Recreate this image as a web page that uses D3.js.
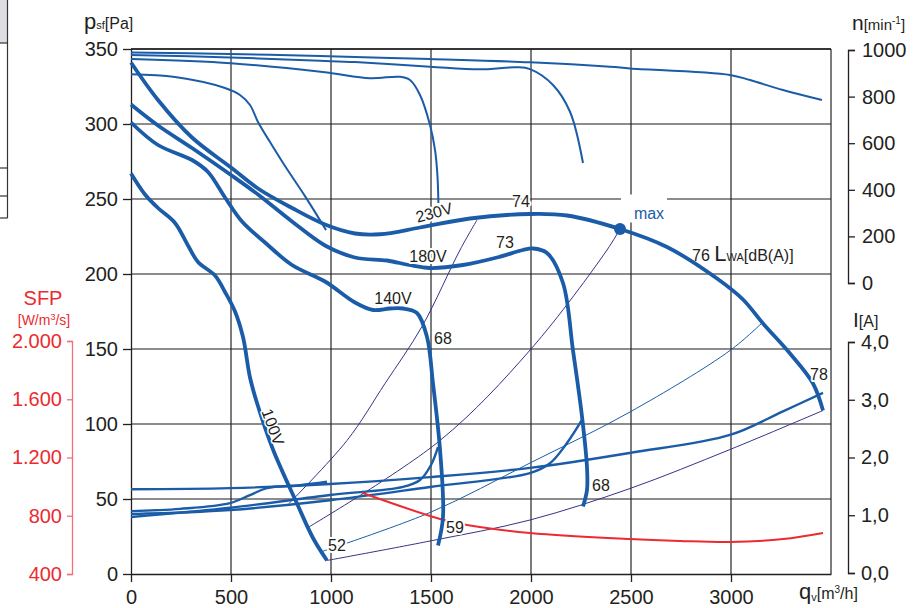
<!DOCTYPE html>
<html><head><meta charset="utf-8">
<script src="https://cdn.jsdelivr.net/npm/d3@7"></script>
<style>
body{margin:0;background:#fff;}
svg{display:block;font-family:"Liberation Sans",Arial,sans-serif;}
</style></head><body>
<svg id="c" width="915" height="608"></svg>
<script>
// ---------- tick labels ----------
const qTicks = [0, 500, 1000, 1500, 2000, 2500, 3000];
const pTicks = [0, 50, 100, 150, 200, 250, 300, 350];
const nTicks = [0, 200, 400, 600, 800, 1000];
const iTicks = [0, 1, 2, 3, 4];
const iLabels = ["0,0", "1,0", "2,0", "3,0", "4,0"];
const sfpTicks = [400, 800, 1200, 1600, 2000];
const sfpLabels = ["400", "800", "1.200", "1.600", "2.000"];

// ---------- pressure curves [q m3/h, p Pa] ----------
const press230 = [[0,341],[135,316],[305,291],[500,271],[635,257],[805,244],[970,233],[1120,227],[1245,226.5],[1445,231],[1695,237],[1995,240],[2180,239],[2445,230],[2680,218],[2930,197],[3060,183],[3160,167],[3295,147],[3410,127],[3460,109]];
const press180 = [[0,313],[135,299],[305,284],[500,266],[635,253],[805,235],[970,219],[1120,211],[1280,209],[1390,206],[1495,204],[1660,206],[1830,211],[1960,216],[2010,217],[2080,214],[2160,194],[2210,149],[2255,105],[2280,71],[2280,56],[2260,45]];
const press140 = [[0,301],[135,286],[305,276],[385,268],[470,251],[555,235],[670,221],[805,206],[970,195],[1120,181],[1210,176],[1295,177],[1360,177],[1430,174],[1480,158],[1510,127],[1545,83],[1560,38],[1535,19]];
const press100 = [[0,267],[70,253],[135,244],[220,234],[285,219],[335,208],[420,199],[470,188],[520,175],[560,158],[595,131],[630,114],[710,83],[830,47],[910,24],[980,9]];

// ---------- speed curves [q, n min-1] ----------
const speed230 = [[0,989],[495,983],[945,974],[1495,961],[1995,947],[2395,928],[2495,921],[2995,893],[3095,871],[3260,828],[3455,785]];
const speed180 = [[0,979],[495,968],[945,954],[1120,948],[1495,928],[1745,917],[1930,926],[1995,918],[2110,850],[2195,735],[2260,515]];
const speed140 = [[0,961],[500,943],[970,904],[1195,879],[1345,885],[1395,871],[1445,807],[1495,678],[1520,571],[1532,464],[1537,343]];
const speed100 = [[0,896],[220,884],[470,837],[545,807],[595,764],[635,691],[695,605],[770,502],[870,373],[975,227]];

// ---------- current curves [q, I A] ----------
const curr230 = [[0,1.45],[495,1.47],[995,1.54],[1495,1.66],[1995,1.82],[2495,2.08],[2995,2.39],[3260,2.8],[3460,3.12]];
const curr180 = [[0,1.02],[495,1.09],[995,1.26],[1495,1.49],[1995,1.73],[2095,1.9],[2180,2.25],[2260,2.68]];
const curr140 = [[0,0.97],[495,1.13],[995,1.35],[1360,1.49],[1445,1.61],[1500,1.87],[1535,2.18]];
const curr100 = [[0,1.07],[245,1.11],[495,1.21],[595,1.35],[680,1.47],[845,1.52],[980,1.58]];

// ---------- SFP [q, W/m3/s] ----------
const sfp = [[1155,958],[1545,778],[1680,736],[1995,682],[2495,640],[2745,627],[2995,620],[3260,640],[3460,682]];

// ---------- system / sound lines [q, p] ----------
const sysA = [[790,47],[1080,89],[1270,127],[1455,165],[1645,216],[1730,236]];
const sysB = [[885,31],[1545,89],[2000,150],[2380,216],[2445,230]];
const sysC = [[955,15],[1495,41],[1995,74],[2495,108],[2995,149],[3160,168]];
const sysD = [[980,9],[1495,22],[1995,36],[2495,57],[2995,83],[3460,109]];
const maxPoint = [2445, 230];

// ---------- labels [text, q, p] ----------
const curveLabels = [
  ["74", 1950, 248.7], ["73", 1870, 221], ["68", 1560, 157], ["78", 3440, 133],
  ["68", 2350, 59], ["59", 1620, 31], ["52", 1030, 19],
  ["180V", 1485, 212], ["140V", 1310, 184]
];

const svg = d3.select("#c");
const x = d3.scaleLinear().domain([0, 3500]).range([131, 831]);
const y = d3.scaleLinear().domain([0, 350]).range([574, 49]);
const yN = d3.scaleLinear().domain([0, 1000]).range([283, 50]);
const yI = d3.scaleLinear().domain([0, 4]).range([573, 342]);
const yS = d3.scaleLinear().domain([400, 2000]).range([574, 341]);

const BLUE = "#1b5ca8", NAVY = "#34338a", RED = "#ec2a2f", TXT = "#231f20";

// table fragment top-left
svg.append("rect").attr("x", 0).attr("y", 0).attr("width", 7).attr("height", 43).attr("fill", "#dcdde3");
svg.append("line").attr("x1", 7.5).attr("x2", 7.5).attr("y1", 0).attr("y2", 218).attr("stroke", "#333").attr("stroke-width", 1.2);
[43, 168, 196, 218].forEach(v => svg.append("line").attr("x1", 0).attr("x2", 7.5).attr("y1", v).attr("y2", v).attr("stroke", "#333").attr("stroke-width", 1.2));

// grid
const grid = svg.append("g");
qTicks.slice(1).concat([3500]).forEach(q => grid.append("line")
  .attr("x1", x(q)).attr("x2", x(q)).attr("y1", y(350)).attr("y2", y(0))
  .attr("stroke", "#6e6e6e").attr("stroke-width", 1.8));
pTicks.slice(1).forEach(p => grid.append("line")
  .attr("x1", x(0)).attr("x2", x(3500)).attr("y1", y(p)).attr("y2", y(p))
  .attr("stroke", "#1a1a1a").attr("stroke-width", 1.2));

// white box behind "max"
svg.append("rect").attr("x", x(2450)).attr("y", y(253)).attr("width", 46).attr("height", 28).attr("fill", "#fff");

// axes helper
function styleAxis(g, color, fs) {
  g.selectAll("path,line").attr("stroke", color).attr("stroke-width", 1.3);
  g.selectAll("text").attr("fill", color).attr("font-size", fs).attr("font-family", "Liberation Sans, Arial, sans-serif");
}
// left p axis
const gl = svg.append("g").attr("transform", "translate(131,0)");
gl.call(d3.axisLeft(y).tickValues(d3.range(0, 351, 10)).tickSize(5).tickFormat("").tickSizeOuter(0));
gl.call(d3.axisLeft(y).tickValues(pTicks).tickSize(8).tickPadding(5).tickSizeOuter(0));
styleAxis(gl, TXT, 20);
// bottom q axis
const gb = svg.append("g").attr("transform", "translate(0,574)");
gb.call(d3.axisBottom(x).tickValues(d3.range(0, 3401, 100)).tickSize(5).tickFormat("").tickSizeOuter(0));
gb.call(d3.axisBottom(x).tickValues(qTicks).tickSize(8).tickPadding(8).tickFormat(d3.format("d")).tickSizeOuter(0));
styleAxis(gb, TXT, 20);
// right n axis
const gn = svg.append("g").attr("transform", "translate(848,0)");
gn.call(d3.axisRight(yN).tickValues(d3.range(0, 1001, 50)).tickSize(5).tickFormat("").tickSizeOuter(7));
gn.call(d3.axisRight(yN).tickValues(nTicks).tickSize(7).tickPadding(7).tickFormat(d3.format("d")).tickSizeOuter(7));
styleAxis(gn, TXT, 20);
// right I axis
const gi = svg.append("g").attr("transform", "translate(848,0)");
gi.call(d3.axisRight(yI).tickValues(d3.range(0, 4.01, 0.2)).tickSize(5).tickFormat("").tickSizeOuter(7));
gi.call(d3.axisRight(yI).tickValues(iTicks).tickSize(7).tickPadding(6).tickFormat((d, i) => iLabels[i]).tickSizeOuter(7));
styleAxis(gi, TXT, 20);
// SFP axis
const gs = svg.append("g").attr("transform", "translate(72,0)");
gs.call(d3.axisLeft(yS).tickValues(d3.range(400, 2001, 100)).tickSize(5).tickFormat("").tickSizeOuter(5));
gs.call(d3.axisLeft(yS).tickValues(sfpTicks).tickSize(5).tickPadding(5).tickFormat((d, i) => sfpLabels[i]).tickSizeOuter(5));
styleAxis(gs, RED, 20);
gs.selectAll("path,line").attr("stroke", "#f07075");

// top border
svg.append("line").attr("x1", x(0)).attr("x2", x(3500)).attr("y1", y(350)).attr("y2", y(350)).attr("stroke", "#1a1a1a").attr("stroke-width", 1.3);

// curves
const curve = d3.curveCatmullRom.alpha(0.5);
const lineP = d3.line().x(d => x(d[0])).y(d => y(d[1])).curve(curve);
const lineN = d3.line().x(d => x(d[0])).y(d => yN(d[1])).curve(curve);
const lineI = d3.line().x(d => x(d[0])).y(d => yI(d[1])).curve(curve);
const lineS = d3.line().x(d => x(d[0])).y(d => yS(d[1])).curve(curve);
function draw(gen, data, color, w) {
  svg.append("path").attr("d", gen(data)).attr("fill", "none").attr("stroke", color)
    .attr("stroke-width", w).attr("stroke-linejoin", "round");
}
[sysA, sysB, sysD].forEach(d => draw(lineP, d, NAVY, 1));
draw(lineP, sysC, BLUE, 1);
[speed230, speed180, speed140, speed100].forEach(d => draw(lineN, d, BLUE, 2));
[curr230, curr180, curr140, curr100].forEach(d => draw(lineI, d, BLUE, 2.4));
draw(lineS, sfp, RED, 2);
[press230, press180, press140, press100].forEach(d => draw(lineP, d, BLUE, 3.8));
svg.append("circle").attr("cx", x(maxPoint[0])).attr("cy", y(maxPoint[1])).attr("r", 6).attr("fill", BLUE);

// labels
function halo(t, w) {
  return t.attr("stroke", "#fff").attr("stroke-width", w).attr("paint-order", "stroke").attr("stroke-linejoin", "round");
}
curveLabels.forEach(([t, q, p]) => {
  halo(svg.append("text").attr("x", x(q)).attr("y", y(p)).attr("dy", "0.35em")
    .attr("text-anchor", "middle").attr("font-size", 16).attr("fill", TXT).text(t), 4);
});
halo(svg.append("text").attr("transform", `translate(${x(1515)},${y(241)}) rotate(-15)`)
  .attr("dy", "0.35em").attr("text-anchor", "middle").attr("font-size", 16).attr("fill", TXT).text("230V"), 4);
halo(svg.append("text").attr("transform", `translate(${x(710)},${y(98)}) rotate(70)`)
  .attr("dy", "0.35em").attr("text-anchor", "middle").attr("font-size", 16).attr("fill", TXT).text("100V"), 3);
svg.append("text").attr("x", x(2590)).attr("y", y(240.5)).attr("dy", "0.35em").attr("text-anchor", "middle")
  .attr("font-size", 16).attr("fill", BLUE).text("max");
const lw = svg.append("text").attr("x", x(2805)).attr("y", y(209)).attr("fill", TXT);
lw.append("tspan").attr("font-size", 16).text("76 ");
lw.append("tspan").attr("font-size", 22).text("L");
lw.append("tspan").attr("font-size", 11).text("WA");
lw.append("tspan").attr("font-size", 16).text("[dB(A)]");

// axis titles
const tp = svg.append("text").attr("x", 84).attr("y", 29).attr("fill", TXT);
tp.append("tspan").attr("font-size", 22).text("p");
tp.append("tspan").attr("font-size", 11).text("sf");
tp.append("tspan").attr("font-size", 16).text("[Pa]");
const tn = svg.append("text").attr("x", 852).attr("y", 30).attr("fill", TXT);
tn.append("tspan").attr("font-size", 21).text("n");
tn.append("tspan").attr("font-size", 15).text("[min");
tn.append("tspan").attr("font-size", 10).attr("dy", -6).text("-1");
tn.append("tspan").attr("font-size", 15).attr("dy", 6).text("]");
const ti = svg.append("text").attr("x", 853).attr("y", 327).attr("fill", TXT);
ti.append("tspan").attr("font-size", 21).text("I");
ti.append("tspan").attr("font-size", 16).text("[A]");
const tq = svg.append("text").attr("x", 799).attr("y", 599).attr("fill", TXT);
tq.append("tspan").attr("font-size", 22).text("q");
tq.append("tspan").attr("font-size", 11).attr("dy", 2).text("v");
tq.append("tspan").attr("font-size", 16).attr("dy", -2).text("[m");
tq.append("tspan").attr("font-size", 10).attr("dy", -6).text("3");
tq.append("tspan").attr("font-size", 16).attr("dy", 6).text("/h]");
svg.append("text").attr("x", 43).attr("y", 305).attr("text-anchor", "middle").attr("font-size", 20).attr("fill", RED).text("SFP");
const tw = svg.append("text").attr("x", 44).attr("y", 325).attr("text-anchor", "middle").attr("font-size", 14).attr("fill", RED);
tw.append("tspan").text("[W/m");
tw.append("tspan").attr("font-size", 9).attr("dy", -5).text("3");
tw.append("tspan").attr("dy", 5).text("/s]");
</script>
</body></html>
